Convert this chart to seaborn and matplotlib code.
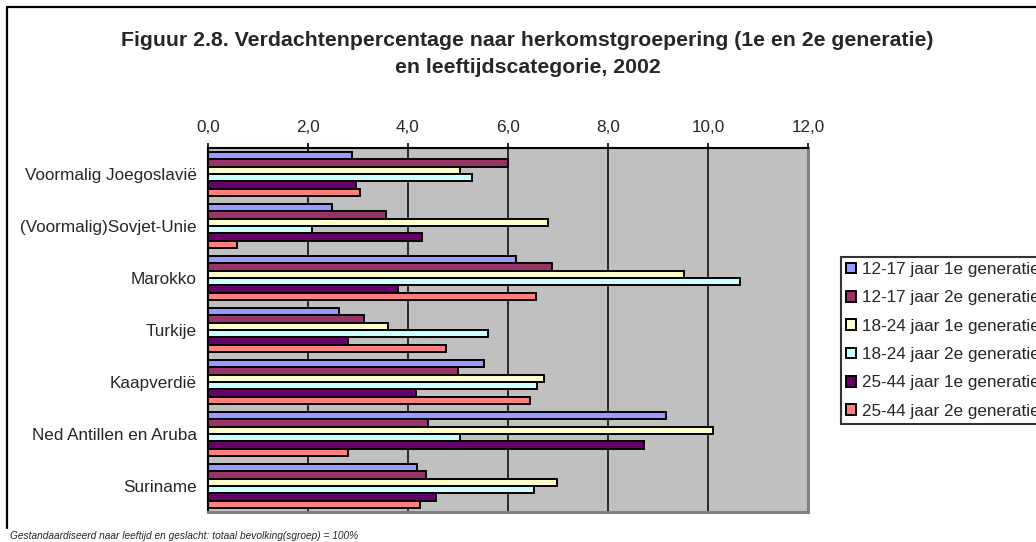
import matplotlib
matplotlib.use("Agg")
import matplotlib.pyplot as plt
from matplotlib.lines import Line2D
from matplotlib.patches import Patch
from matplotlib.ticker import FixedLocator
import seaborn as sns
import pandas as pd

# ---- data ----
categories = ["Voormalig Joegoslavië", "(Voormalig)Sovjet-Unie", "Marokko", "Turkije",
              "Kaapverdië", "Ned Antillen en Aruba", "Suriname"]
series_names = ["12-17 jaar 1e generatie", "12-17 jaar 2e generatie",
                "18-24 jaar 1e generatie", "18-24 jaar 2e generatie",
                "25-44 jaar 1e generatie", "25-44 jaar 2e generatie"]
s1217_1 = [2.87, 2.48, 6.15, 2.62, 5.51, 9.15, 4.18]
s1217_2 = [6.00, 3.55, 6.87, 3.11, 4.99, 4.40, 4.36]
s1824_1 = [5.03, 6.79, 9.51, 3.60, 6.71, 10.10, 6.98]
s1824_2 = [5.27, 2.07, 10.63, 5.59, 6.58, 5.03, 6.51]
s2544_1 = [2.96, 4.28, 3.79, 2.79, 4.15, 8.72, 4.55]
s2544_2 = [3.04, 0.58, 6.55, 4.75, 6.43, 2.79, 4.23]
xtick_values = [0, 2, 4, 6, 8, 10, 12]
xtick_labels = ["0,0", "2,0", "4,0", "6,0", "8,0", "10,0", "12,0"]
title_line1 = "Figuur 2.8. Verdachtenpercentage naar herkomstgroepering (1e en 2e generatie)"
title_line2 = "en leeftijdscategorie, 2002"
footnote = "Gestandaardiseerd naar leeftijd en geslacht: totaal bevolking(sgroep) = 100%"

colors = ["#9999FF", "#993366", "#FFFFCC", "#CCFFFF", "#660066", "#FF8080"]

all_series = [s1217_1, s1217_2, s1824_1, s1824_2, s2544_1, s2544_2]
rows = []
for name, vals in zip(series_names, all_series):
    for cat, v in zip(categories, vals):
        rows.append({"land": cat, "groep": name, "waarde": v})
df = pd.DataFrame(rows)

sns.set_style("white")
plt.rcParams["font.family"] = ["Liberation Sans", "DejaVu Sans"]

W, H = 1036, 542
fig = plt.figure(figsize=(W / 100, H / 100), dpi=100)
ax = fig.add_axes([208 / W, 1 - 512 / H, 600 / W, 364 / H])

sns.barplot(data=df, y="land", x="waarde", hue="groep", orient="h",
            order=categories, hue_order=series_names, palette=colors,
            width=0.84, gap=0, edgecolor="black", linewidth=1.4,
            saturation=1, ax=ax, legend=False, errorbar=None)

ax.set_facecolor("#C0C0C0")
ax.set_xlim(0, 12)
ax.set_ylim(len(categories) - 0.5, -0.5)
ax.set_xlabel("")
ax.set_ylabel("")

ax.xaxis.tick_top()
ax.set_xticks(xtick_values)
ax.set_xticklabels(xtick_labels, fontsize=12.3)
ax.tick_params(axis="x", which="major", direction="out", length=3.6, width=1.2,
               color="black", pad=6, top=True, bottom=False)
ax.xaxis.grid(True, color="black", linewidth=1.1)
ax.set_axisbelow(True)

ax.tick_params(axis="y", which="major", length=0, pad=8, labelsize=12.3)
ax.yaxis.set_minor_locator(FixedLocator([i - 0.5 for i in range(len(categories) + 1)]))
ax.tick_params(axis="y", which="minor", direction="out", length=3.6, width=1.2, color="black")

for side in ["top", "left"]:
    ax.spines[side].set_color("black")
    ax.spines[side].set_linewidth(1.5)
for side in ["right", "bottom"]:
    ax.spines[side].set_color("#808080")
    ax.spines[side].set_linewidth(2.2)
for sp in ax.spines.values():
    sp.set_visible(True)

# title
fig.text(527.5 / W, 1 - 46 / H, title_line1, ha="center", va="baseline",
         fontsize=15.3, fontweight="bold")
fig.text(527.5 / W, 1 - 73 / H, title_line2, ha="center", va="baseline",
         fontsize=15.3, fontweight="bold")

# legend
handles = [Patch(facecolor=c, edgecolor="black", linewidth=1.4) for c in colors]
leg = fig.legend(handles, series_names, loc="upper left",
                 bbox_to_anchor=(841 / W, 1 - 257 / H), bbox_transform=fig.transFigure,
                 borderaxespad=0, fontsize=12.3, frameon=True, fancybox=False,
                 borderpad=0.3, labelspacing=0.78, handlelength=0.58, handleheight=0.58,
                 handletextpad=0.33)
leg.get_frame().set_edgecolor("black")
leg.get_frame().set_linewidth(1.5)

# chart frame (left and top)
fig.add_artist(Line2D([7 / W, 7 / W], [1 - 528 / H, 1 - 7 / H], transform=fig.transFigure,
                      color="black", linewidth=1.6))
fig.add_artist(Line2D([7 / W, 1.0], [1 - 7 / H, 1 - 7 / H], transform=fig.transFigure,
                      color="black", linewidth=1.6))

# footnote
fig.text(10 / W, 1 - 539 / H, footnote, ha="left", va="baseline",
         fontsize=7.3, fontstyle="italic")

fig.savefig("out.png", dpi=100)
